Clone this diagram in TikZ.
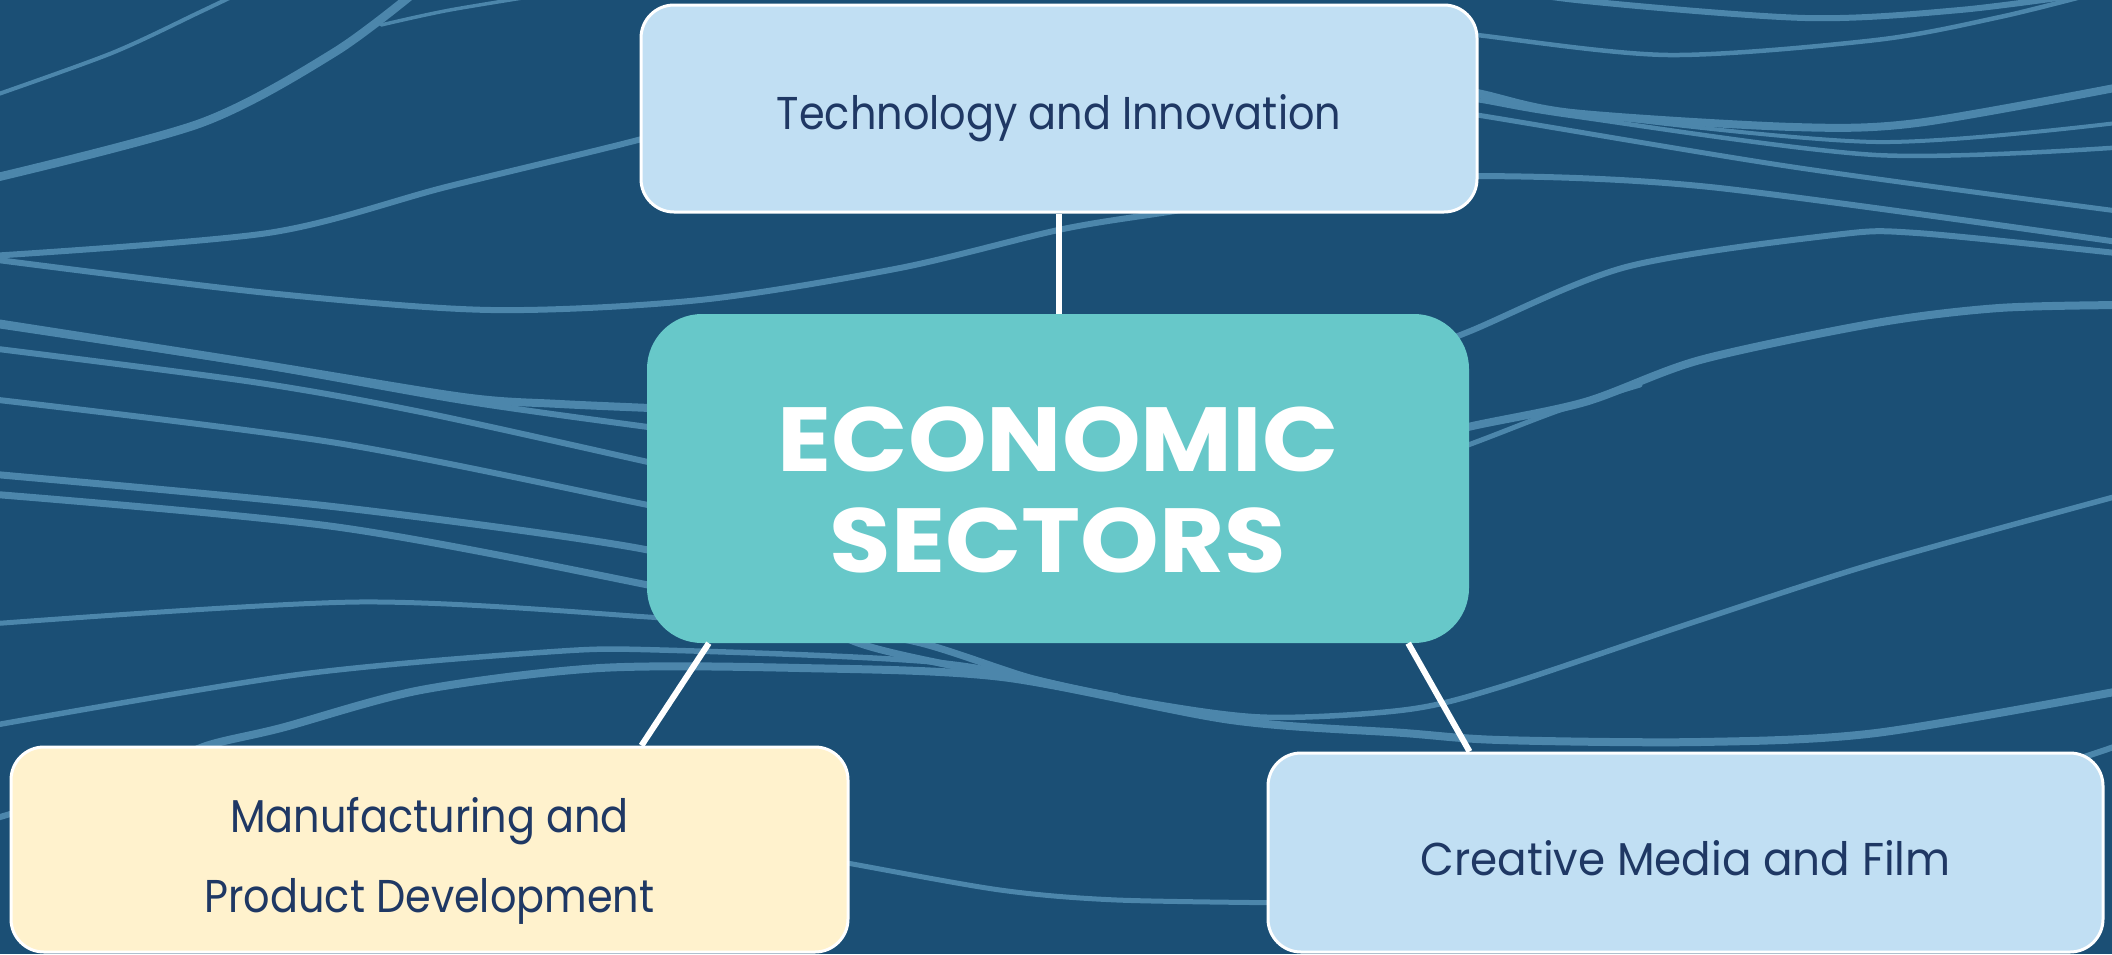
\documentclass[tikz,border=0pt]{standalone}
\usepackage{fontspec}
\newfontfamily\labfont{Poppins}[FakeStretch=0.9]
\newfontfamily\labfontw{Poppins}[FakeStretch=0.95]
\newfontfamily\headfont{Poppins Bold}[FakeStretch=1.1]
\definecolor{bgc}{HTML}{1B4F75}
\definecolor{linec}{HTML}{4C86AB}
\definecolor{tealc}{HTML}{67C8C9}
\definecolor{lbluec}{HTML}{C1DFF3}
\definecolor{creamc}{HTML}{FFF2CD}
\definecolor{navyc}{HTML}{1F3864}
\tikzset{
  bgline/.style={draw=linec, line width=#1, line cap=round},
  bgline/.default=6pt,
  leafbox/.style={draw=white, line width=3pt, rounded corners=33pt, inner sep=0pt,
    text=navyc, font=\labfont\fontsize{46}{80}\selectfont},
  corebox/.style={fill=tealc, rounded corners=55pt, inner sep=0pt, text=white,
    font=\headfont\fontsize{91}{101}\selectfont},
  link/.style={draw=white, line width=6pt}
}
\begin{document}
\begin{tikzpicture}[x=1pt,y=-1pt]
\useasboundingbox (0,0) rectangle (2112,954);
\fill[bgc] (0,0) rectangle (2112,954);
\begin{scope}
\clip (0,0) rectangle (2112,954);
% top left
\draw[bgline=4pt] plot[smooth] coordinates {(-10,97) (112,53) (200,12) (250,-12)};
\draw[bgline=8.5pt] plot[smooth] coordinates {(-10,179) (201,123) (335,52) (420,-12)};
\draw[bgline=3.5pt] plot[smooth] coordinates {(381,25) (450,10) (560,-8)};
\draw[bgline=6pt] plot[smooth] coordinates {(-10,256) (268,233) (446,187) (638,140) (760,105)};
\draw[bgline=6pt] plot[smooth] coordinates {(-10,259) (268,293) (491,310) (700,300) (900,268) (1063,229) (1181,210) (1330,185) (1477,176) (1710,187) (2125,243)};
% top right
\draw[bgline=6pt] plot[smooth] coordinates {(1450,-20) (1576,0) (1805,18) (1960,10) (2100,-8)};
\draw[bgline=4.5pt] plot[smooth] coordinates {(1400,25) (1477,35) (1668,55) (1876,40) (2000,17) (2100,-8)};
\draw[bgline=8pt] plot[smooth] coordinates {(1400,80) (1477,93) (1572,113) (1793,127) (1917,123) (2125,86)};
\draw[bgline=4pt] plot[smooth] coordinates {(1400,85) (1477,96) (1572,113) (1876,142) (2125,122)};
\draw[bgline=4.5pt] plot[smooth] coordinates {(1400,90) (1477,100) (1572,116) (1876,155) (2125,147)};
\draw[bgline=5pt] plot[smooth] coordinates {(1400,105) (1477,115) (1793,167) (2125,212)};
% right middle
\draw[bgline=6pt] plot[smooth] coordinates {(1380,365) (1468,332) (1626,267) (1834,235) (1917,233) (2125,254)};
\draw[bgline=8pt] plot[smooth] coordinates {(1380,450) (1468,427) (1585,402) (1700,360) (1876,323) (1999,308) (2125,305)};
\draw[bgline=5pt] plot[smooth] coordinates {(1380,475) (1468,445) (1560,410) (1640,385)};
% left middle
\draw[bgline=8pt] plot[smooth] coordinates {(-10,322) (253,363) (463,397) (560,404) (700,410)};
\draw[bgline=6pt] plot[smooth] coordinates {(-10,324) (253,364) (463,401) (648,427) (700,433)};
\draw[bgline=6pt] plot[smooth] coordinates {(-10,348) (253,382) (421,412) (648,462) (700,474)};
\draw[bgline=6pt] plot[smooth] coordinates {(-10,399) (337,443) (648,505) (700,515)};
\draw[bgline=7pt] plot[smooth] coordinates {(-10,474) (337,507) (648,550) (760,590) (858,643) (1000,675) (1117,697)};
\draw[bgline=7pt] plot[smooth] coordinates {(-10,494) (337,527) (648,585) (800,620) (921,643) (1030,678) (1117,697)};
\draw[bgline=5pt] plot[smooth] coordinates {(-10,624) (358,602) (648,617) (720,625)};
% lower band
\draw[bgline=5.5pt] plot[smooth] coordinates {(-10,726) (295,675) (547,652) (660,650) (944,663) (1117,697) (1260,717) (1404,710) (1500,687) (1700,620) (1876,563) (2125,494)};
\draw[bgline=8pt] plot[smooth] coordinates {(150,772) (206,746) (281,728) (421,690) (600,668) (800,668) (1002,677) (1231,720) (1404,733) (1500,740) (1700,742) (1876,733) (2125,690)};
\draw[bgline=5pt] plot[smooth] coordinates {(800,855) (847,863) (1000,890) (1117,900) (1300,903)};
\draw[bgline=6pt] plot[smooth] coordinates {(-10,820) (40,805) (120,780)};
\draw[bgline=6pt] plot[smooth] coordinates {(1950,800) (2084,757) (2125,743)};
\end{scope}
% boxes
\node[leafbox, fill=lbluec, minimum width=836pt, minimum height=207pt] (tech) at (1059,108.5)
  {\raisebox{-20.5pt}[0pt][0pt]{Technology and Innovation}};
\node[corebox, minimum width=822pt, minimum height=329pt] (core) at (1058,478.5)
  {\raisebox{7.5pt}[0pt][0pt]{\begin{tabular}[t]{@{}c@{}}ECONOMIC\\SECTORS\end{tabular}}};
\node[leafbox, fill=creamc, minimum width=837pt, minimum height=205pt] (manu) at (429.5,849.5)
  {\raisebox{17.5pt}[0pt][0pt]{\begin{tabular}[t]{@{}c@{}}Manufacturing and\\Product Development\end{tabular}}};
\node[leafbox, fill=lbluec, minimum width=835pt, minimum height=199pt] (media) at (1685.5,852.5)
  {\raisebox{-22.5pt}[0pt][0pt]{\labfontw Creative Media and Film}};
% connectors
\draw[link] (tech.south) -- (tech.south |- core.north);
\draw[link] ([xshift=62pt]core.south west) -- ([xshift=-208pt]manu.north east);
\draw[link] ([xshift=-61pt]core.south east) -- ([xshift=203pt]media.north west);
\end{tikzpicture}
\end{document}
